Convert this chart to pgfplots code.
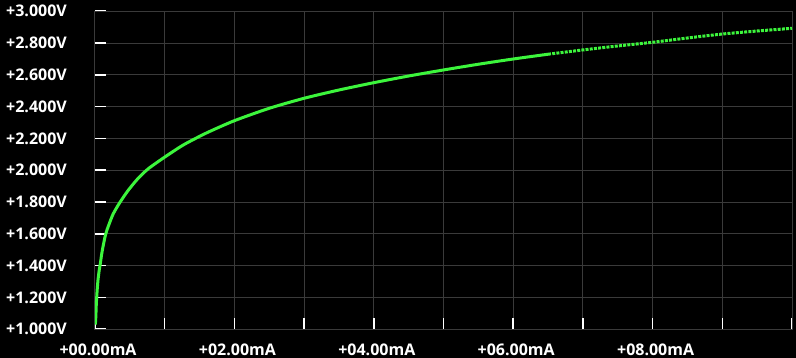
\documentclass[border=0pt]{standalone}
\usepackage{fontspec}
\setmainfont{Open Sans}
\usepackage{xcolor}
\usepackage{pgfplots}
\pgfplotsset{compat=1.18}
\definecolor{gridgray}{HTML}{3A3A3A}
\definecolor{curvegreen}{HTML}{3CF53C}
\pagecolor{black}
\begin{document}
\begin{tikzpicture}
\begin{axis}[
  set layers=standard,
  at={(0pt,0pt)}, anchor=south west,
  scale only axis, width=697pt, height=318pt,
  xmin=0, xmax=10, ymin=1, ymax=3,
  xtick={0,1,2,3,4,5,6,7,8,9,10},
  xticklabels={+00.00mA,,+02.00mA,,+04.00mA,,+06.00mA,,+08.00mA,,},
  ytick={1,1.2,1.4,1.6,1.8,2,2.2,2.4,2.6,2.8,3},
  yticklabels={+1.000V,+1.200V,+1.400V,+1.600V,+1.800V,+2.000V,+2.200V,+2.400V,+2.600V,+2.800V,+3.000V},
  grid=major,
  major grid style={gridgray, line width=1pt},
  axis line style={gridgray, line width=1pt},
  tick align=inside, major tick length=11pt,
  tick style={white, line width=1.6pt},
  major tick style={white, line width=1.6pt},
  xtick pos=bottom, ytick pos=left,
  ticklabel style={text=white, font=\bfseries\fontsize{16}{16}\selectfont, inner sep=0pt},
  yticklabel style={anchor=east, xshift=-28pt},
  xticklabel style={anchor=base, yshift=-26pt, xshift=3pt},
  axis background/.style={fill=black},
]
\addplot[curvegreen, line width=3pt, line join=round, smooth, tension=0.4] coordinates {
(0.005,1.03) (0.012,1.08) (0.019,1.16) (0.03,1.24) (0.043,1.31) (0.06,1.37)
(0.077,1.415) (0.095,1.47) (0.115,1.52) (0.143,1.58) (0.165,1.615) (0.19,1.647)
(0.26,1.725) (0.36,1.80) (0.48,1.876) (0.62,1.95) (0.765,2.01) (1.0,2.083)
(1.27,2.16) (1.6,2.235) (2.0,2.312) (2.5,2.39) (3.0,2.453) (3.5,2.505)
(4.0,2.551) (4.5,2.593) (5.0,2.631) (5.5,2.667) (6.0,2.70) (6.5,2.73)
};
\addplot[curvegreen, line width=3pt, dash pattern=on 3pt off 1.2pt, smooth, tension=0.4] coordinates {
(6.5,2.73) (7.0,2.757) (7.5,2.782) (8.0,2.805) (8.5,2.832) (9.0,2.857)
(9.5,2.876) (10.0,2.893)
};
\end{axis}
\pgfresetboundingbox
\path (-95pt,-28.7pt) rectangle (701pt,329.3pt);
\end{tikzpicture}
\end{document}
